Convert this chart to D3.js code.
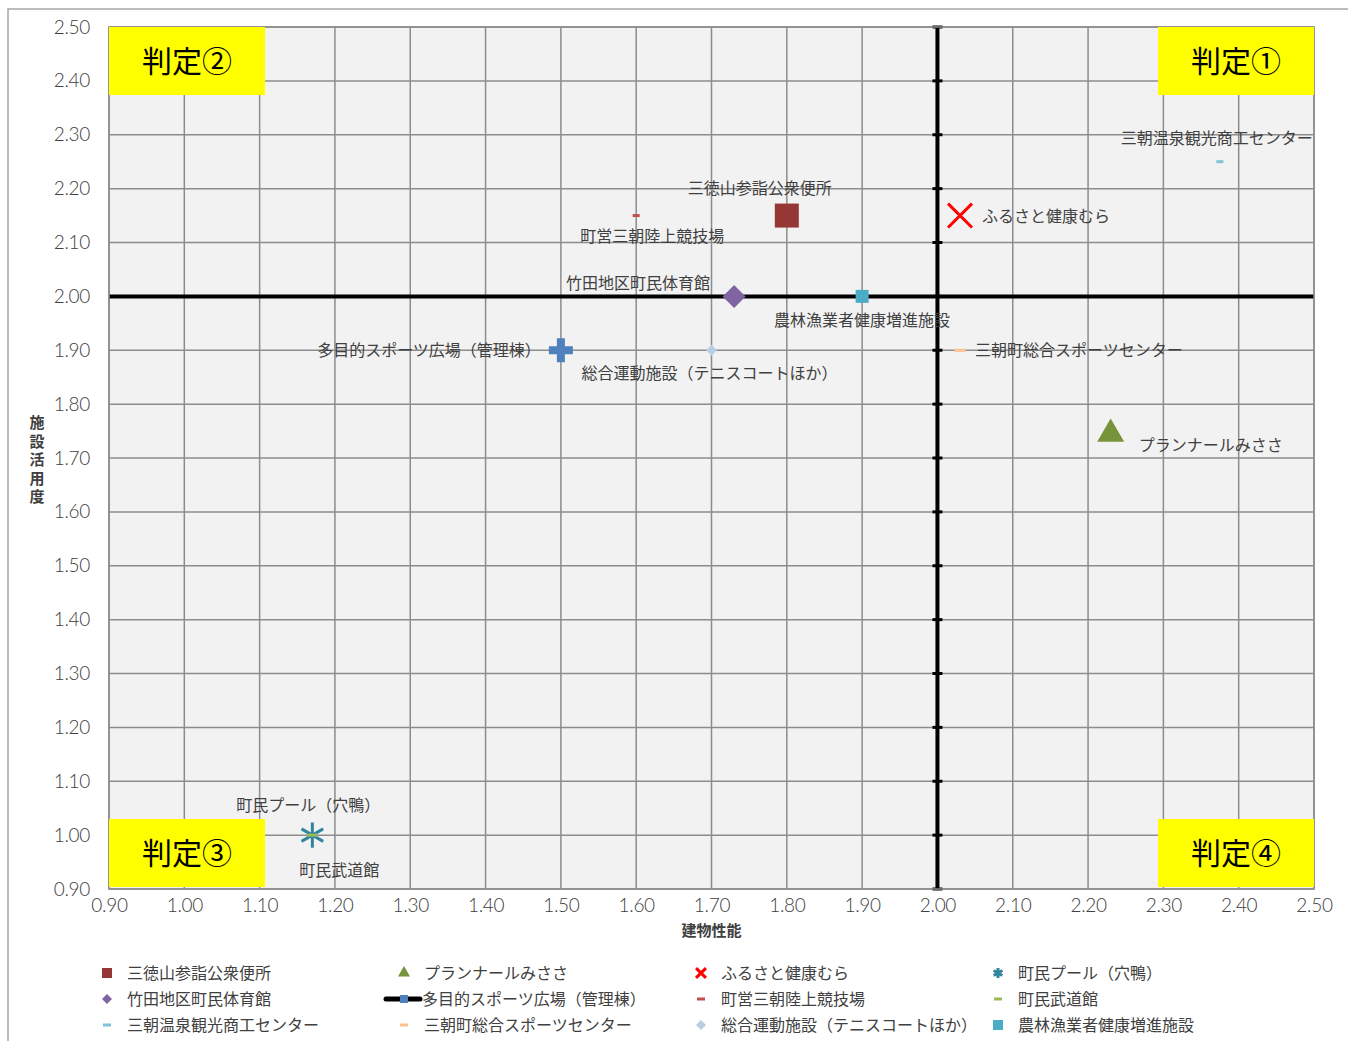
<!DOCTYPE html>
<html>
<head>
<meta charset="utf-8">
<script src="https://cdn.jsdelivr.net/npm/d3@7"></script>
<style>
  body { margin: 0; background: #fff; }
  text { font-family: "Noto Sans CJK JP", "Noto Sans", sans-serif; }
</style>
</head>
<body>
<div id="chart"></div>
<script>
// facilities, in legend order
var names = [
  "三徳山参詣公衆便所", "プランナールみささ", "ふるさと健康むら", "町民プール（穴鴨）",
  "竹田地区町民体育館", "多目的スポーツ広場（管理棟）", "町営三朝陸上競技場", "町民武道館",
  "三朝温泉観光商工センター", "三朝町総合スポーツセンター", "総合運動施設（テニスコートほか）", "農林漁業者健康増進施設"
];
var buildPerf = [1.80, 2.23, 2.03, 1.17, 1.73, 1.50, 1.60, 1.17, 2.375, 2.03, 1.70, 1.90];
var usage     = [2.15, 1.75, 2.15, 1.00, 2.00, 1.90, 2.15, 1.00, 2.25, 1.90, 1.90, 2.00];
var tickVals = [0.90, 1.00, 1.10, 1.20, 1.30, 1.40, 1.50, 1.60, 1.70, 1.80, 1.90, 2.00, 2.10, 2.20, 2.30, 2.40, 2.50];
var quadrants = ["判定①", "判定②", "判定③", "判定④"];

var w = 1348, h = 1041;
var svg = d3.select("#chart").append("svg").attr("width", w).attr("height", h);

var x = d3.scaleLinear().domain([0.9, 2.5]).range([109, 1314]);
var y = d3.scaleLinear().domain([0.9, 2.5]).range([889, 27]);

// outer frame
svg.append("path").attr("d", "M8,1041 V9 H1348").attr("fill", "none")
   .attr("stroke", "#a6a6a6").attr("stroke-width", 1.5);

// plot background
svg.append("rect").attr("x", x(0.9)).attr("y", y(2.5))
   .attr("width", x(2.5) - x(0.9)).attr("height", y(0.9) - y(2.5))
   .attr("fill", "#f2f2f2");

// grid
var grid = svg.append("g").attr("stroke", "#8c8c8c").attr("stroke-width", 1.5);
grid.selectAll("line.v").data(tickVals).enter().append("line")
    .attr("x1", function(d){ return x(d); }).attr("x2", function(d){ return x(d); })
    .attr("y1", y(2.5)).attr("y2", y(0.9));
grid.selectAll("line.h").data(tickVals).enter().append("line")
    .attr("y1", function(d){ return y(d); }).attr("y2", function(d){ return y(d); })
    .attr("x1", x(0.9)).attr("x2", x(2.5));

// tick labels
var fmt = d3.format(".2f");
var xAxis = svg.append("g").attr("transform", "translate(0," + y(0.9) + ")")
   .call(d3.axisBottom(x).tickValues(tickVals).tickFormat(fmt).tickSize(0).tickPadding(10));
var yAxis = svg.append("g").attr("transform", "translate(" + (x(0.9) - 19) + ",0)")
   .call(d3.axisLeft(y).tickValues(tickVals).tickFormat(fmt).tickSize(0).tickPadding(0));
[xAxis, yAxis].forEach(function(a){
  a.select(".domain").remove();
  a.selectAll("text").attr("font-size", 19).attr("fill", "#404040")
   .style("font-family", "Lato, 'Liberation Sans', sans-serif").style("font-weight", 300)
   .style("letter-spacing", "-0.3px");
});

// quadrant lines at 2.00
svg.append("line").attr("x1", x(0.9)).attr("x2", x(2.5))
   .attr("y1", y(2.0)).attr("y2", y(2.0)).attr("stroke", "#000").attr("stroke-width", 4);
svg.append("line").attr("x1", x(2.0)).attr("x2", x(2.0))
   .attr("y1", y(2.5)).attr("y2", y(0.9)).attr("stroke", "#000").attr("stroke-width", 4);
svg.selectAll("line.qt").data(tickVals).enter().append("line")
   .attr("x1", x(2.0) - 5).attr("x2", x(2.0) + 5)
   .attr("y1", function(d){ return y(d); }).attr("y2", function(d){ return y(d); })
   .attr("stroke", "#000").attr("stroke-width", 3);

// plot border
svg.append("rect").attr("x", x(0.9)).attr("y", y(2.5))
   .attr("width", x(2.5) - x(0.9)).attr("height", y(0.9) - y(2.5))
   .attr("fill", "none").attr("stroke", "#8c8c8c").attr("stroke-width", 1.5);

// quadrant boxes
var boxW = 156, boxH = 68;
var boxPos = [
  [x(2.5) - boxW, y(2.5)], [x(0.9), y(2.5)],
  [x(0.9), y(0.9) - boxH - 2], [x(2.5) - boxW, y(0.9) - boxH - 2]
];
var boxes = svg.selectAll("g.qbox").data(quadrants).enter().append("g")
   .attr("transform", function(d, i){ return "translate(" + boxPos[i][0] + "," + boxPos[i][1] + ")"; });
boxes.append("rect").attr("width", boxW).attr("height", boxH).attr("fill", "#ffff00");
boxes.append("text").attr("x", boxW / 2).attr("y", boxH / 2 + 11)
   .attr("text-anchor", "middle").attr("font-size", 30).attr("fill", "#000")
   .text(function(d){ return d; });

// marker styles per facility
var styles = [
  {type: "square",  size: 24, fill: "#953735"},
  {type: "triangle", size: 27, fill: "#77933c"},
  {type: "times",   size: 24, stroke: "#ff0000", sw: 3},
  {type: "asterisk", size: 25, stroke: "#31859c", sw: 3},
  {type: "diamond", size: 23, fill: "#8064a2"},
  {type: "cross",   size: 24, fill: "#4f81bd"},
  {type: "dash",    size: 7, fill: "#c0504d"},
  {type: "dash",    size: 10, fill: "#9bbb59"},
  {type: "dash",    size: 7, fill: "#7fc3d8"},
  {type: "dash",    size: 12, fill: "#fac090"},
  {type: "diamond", size: 11, fill: "#b9cde5"},
  {type: "square",  size: 13, fill: "#4bacc6"}
];

function drawMarker(g, s, scale) {
  var sz = s.size * scale;
  if (s.type === "dash") {
    g.append("rect").attr("x", -sz / 2).attr("y", -1.5).attr("width", sz).attr("height", 3).attr("fill", s.fill);
    return;
  }
  var sym, area;
  if (s.type === "square") { sym = d3.symbolSquare; area = sz * sz; }
  if (s.type === "triangle") { sym = d3.symbolTriangle; area = Math.pow(sz / (2 * Math.sqrt(3)), 2) * Math.sqrt(3) * 3; }
  if (s.type === "diamond") { sym = d3.symbolDiamond2; area = Math.pow(sz / 2 / 0.62625, 2); }
  if (s.type === "cross") { sym = d3.symbolCross; area = Math.pow(sz / 3, 2) * 5; }
  if (s.type === "times") { sym = d3.symbolTimes; area = Math.pow(sz / 2 / 0.6189, 2); }
  if (s.type === "asterisk") { sym = d3.symbolAsterisk; area = Math.pow(sz / 2 / 0.59436, 2); }
  var p = g.append("path").attr("d", d3.symbol().type(sym).size(area)());
  if (s.stroke) p.attr("fill", "none").attr("stroke", s.stroke).attr("stroke-width", s.sw * Math.max(scale, 0.8));
  else p.attr("fill", s.fill);
}

// points (drawn so the dash of 町民武道館 sits on the asterisk)
var drawOrder = [0, 1, 2, 3, 4, 5, 6, 8, 9, 10, 11, 7];
drawOrder.forEach(function(i){
  var dy = styles[i].type === "triangle" ? 3 : 0;
  var g = svg.append("g").attr("transform", "translate(" + x(buildPerf[i]) + "," + (y(usage[i]) + dy) + ")");
  drawMarker(g, styles[i], 1);
});

// data labels: offset from the point, anchor
var labelOffsets = [
  [-27, -22, "middle"], [28, 20, "start"], [22, 6, "start"], [-4, -24, "middle"],
  [-24, -7, "end"], [-20, 6, "end"], [16, 26, "middle"], [27, 41, "middle"],
  [-3, -18, "middle"], [15, 6, "start"], [-2, 29, "middle"], [0, 30, "middle"]
];
names.forEach(function(n, i){
  var o = labelOffsets[i];
  svg.append("text").attr("x", x(buildPerf[i]) + o[0]).attr("y", y(usage[i]) + o[1])
     .attr("text-anchor", o[2]).attr("font-size", 16).attr("fill", "#404040").text(n);
});

// axis titles
svg.append("text").attr("x", (x(0.9) + x(2.5)) / 2).attr("y", 936).attr("text-anchor", "middle")
   .attr("font-size", 15).attr("font-weight", "bold").attr("fill", "#404040").text("建物性能");
var yTitle = "施設活用度".split("");
svg.selectAll("text.yt").data(yTitle).enter().append("text")
   .attr("x", 37).attr("y", function(d, i){ return 428 + i * 18.5; })
   .attr("text-anchor", "middle").attr("font-size", 15).attr("font-weight", "bold").attr("fill", "#404040")
   .text(function(d){ return d; });

// legend, 4 columns x 3 rows
var legend = svg.append("g");
names.forEach(function(n, i){
  var col = i % 4, row = Math.floor(i / 4);
  var g = legend.append("g").attr("transform", "translate(" + (107 + col * 297) + "," + (973 + row * 26) + ")");
  var mk = g.append("g");
  if (i === 5) {
    mk.append("line").attr("x1", -18).attr("x2", 16).attr("stroke", "#000").attr("stroke-width", 5).attr("stroke-linecap", "round");
    mk.append("rect").attr("x", -4).attr("y", -4).attr("width", 8).attr("height", 8).attr("fill", "#4f81bd");
    g.append("text").attr("x", 18).attr("y", 6).attr("font-size", 16).attr("fill", "#404040").text(n);
    return;
  }
  var s = Object.assign({}, styles[i]);
  var leg = {square: 10, triangle: 12, times: 10, asterisk: 10, diamond: 10, dash: 8};
  s.size = leg[s.type];
  if (s.type === "times" || s.type === "asterisk") s.sw = 3;
  drawMarker(mk, s, 1);
  g.append("text").attr("x", 20).attr("y", 6).attr("font-size", 16).attr("fill", "#404040").text(n);
});
</script>
</body>
</html>
